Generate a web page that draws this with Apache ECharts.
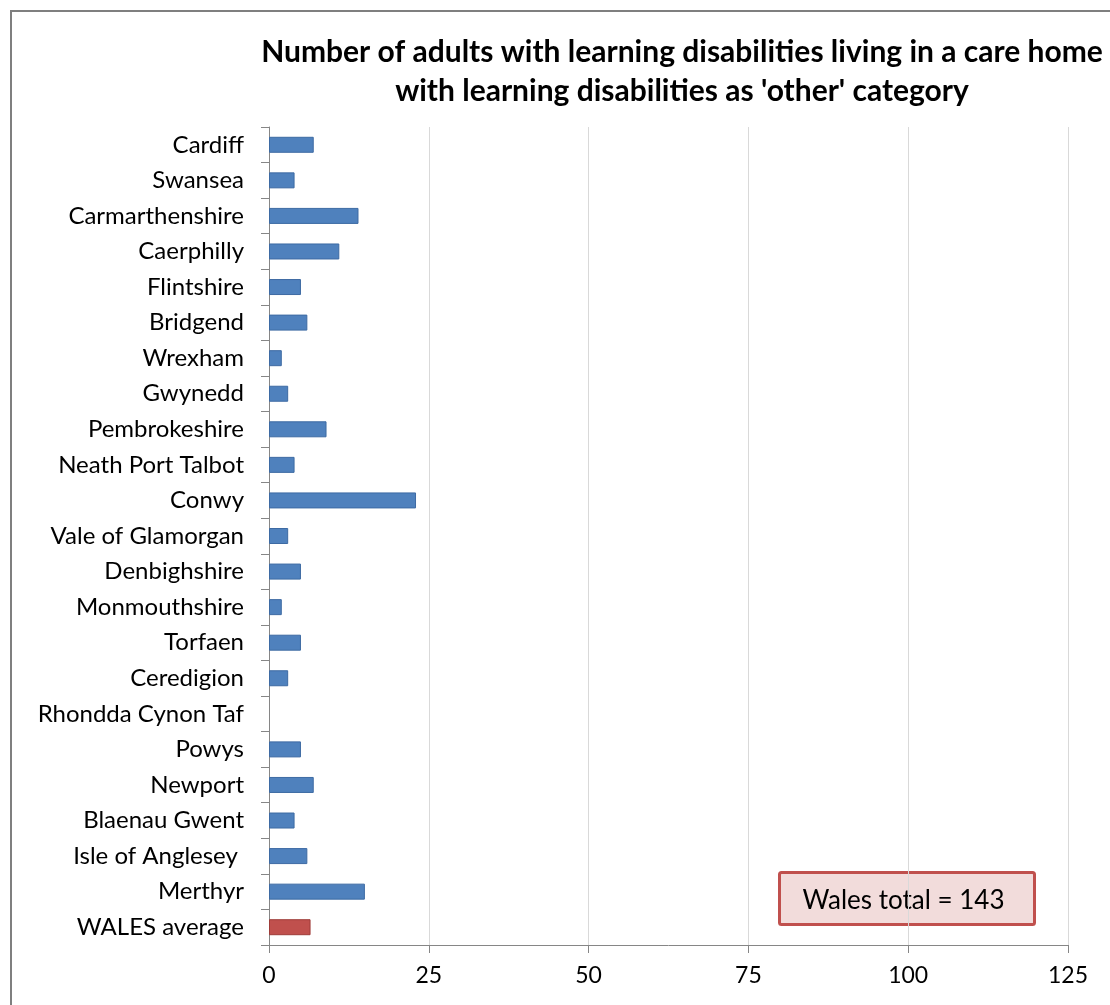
<!DOCTYPE html>
<html>
<head>
<meta charset="utf-8">
<script src="https://cdn.jsdelivr.net/npm/echarts@6/dist/echarts.min.js"></script>
<style>
  html, body { margin: 0; padding: 0; background: #fff; }
  #chart { width: 1110px; height: 1005px; }
</style>
</head>
<body>
<div id="chart"></div>
<script>
// Local authorities, top to bottom
const areas = [
  'Cardiff', 'Swansea', 'Carmarthenshire', 'Caerphilly', 'Flintshire', 'Bridgend',
  'Wrexham', 'Gwynedd', 'Pembrokeshire', 'Neath Port Talbot', 'Conwy',
  'Vale of Glamorgan', 'Denbighshire', 'Monmouthshire', 'Torfaen', 'Ceredigion',
  'Rhondda Cynon Taf', 'Powys', 'Newport', 'Blaenau Gwent', 'Isle of Anglesey ',
  'Merthyr', 'WALES average'
];
// Adults in care homes with learning disabilities recorded as 'other' category
const counts = [7, 4, 14, 11, 5, 6, 2, 3, 9, 4, 23, 3, 5, 2, 5, 3, 0, 5, 7, 4, 6, 15, 6.5];
const xTicks = [0, 25, 50, 75, 100, 125];
const walesTotal = 143;

const FONT = 'Lato, "Open Sans", sans-serif';
const blue = '#4f81bd', blueEdge = '#3d6aa3';
const red = '#c0504d', redEdge = '#9e3b38';

const barData = counts.map((v, i) => {
  const isAvg = i === counts.length - 1;
  return {
    value: v,
    itemStyle: {
      color: isAvg ? red : blue,
      borderColor: isAvg ? redEdge : blueEdge,
      // no outline on empty bars so a zero stays invisible
      borderWidth: v > 0 ? 1 : 0
    }
  };
});

const chart = echarts.init(document.getElementById('chart'));
chart.setOption({
  animation: false,
  backgroundColor: '#fff',
  title: {
    text: "Number of adults with learning disabilities living in a care home\nwith learning disabilities as 'other' category",
    left: 677,
    top: 28,
    textAlign: 'center',
    textStyle: {
      fontFamily: FONT,
      fontSize: 30,
      fontWeight: 'bold',
      color: '#000',
      lineHeight: 39
    }
  },
  grid: { left: 269, right: 42, top: 127, bottom: 60, containLabel: false },
  xAxis: {
    type: 'value',
    min: 0,
    max: 125,
    interval: 25,
    axisLine: { show: true, lineStyle: { color: '#868686', width: 1 } },
    axisTick: { show: true, length: 8, lineStyle: { color: '#868686' } },
    axisLabel: {
      fontFamily: FONT, fontSize: 23, color: '#000', margin: 19,
      formatter: v => xTicks.includes(v) ? String(v) : ''
    },
    splitLine: { show: true, lineStyle: { color: '#d9d9d9', width: 1 } }
  },
  yAxis: {
    type: 'category',
    data: areas,
    inverse: true,
    axisLine: { show: true, lineStyle: { color: '#868686', width: 1 } },
    axisTick: { show: true, length: 8, alignWithLabel: false, lineStyle: { color: '#868686' } },
    axisLabel: { fontFamily: FONT, fontSize: 24, color: '#000', margin: 25 },
    splitLine: { show: false }
  },
  series: [{
    type: 'bar',
    data: barData,
    barWidth: 16
  }],
  graphic: [
    // outer chart frame
    { type: 'line', shape: { x1: 10, y1: 11, x2: 1110, y2: 11 }, style: { stroke: '#7f7f7f', lineWidth: 2 } },
    { type: 'line', shape: { x1: 11, y1: 10, x2: 11, y2: 1005 }, style: { stroke: '#7f7f7f', lineWidth: 2 } },
    // total annotation box
    {
      type: 'group',
      left: 778,
      top: 871,
      children: [
        {
          type: 'rect',
          shape: { x: 0, y: 0, width: 255, height: 52, r: 2 },
          style: { fill: '#f2dcdb', stroke: red, lineWidth: 3 }
        },
        {
          type: 'text',
          style: {
            x: 124, y: 28,
            text: 'Wales total = ' + walesTotal,
            align: 'center', verticalAlign: 'middle',
            fontFamily: FONT, fontSize: 26, fill: '#000'
          }
        }
      ]
    }
  ]
});
</script>
</body>
</html>
